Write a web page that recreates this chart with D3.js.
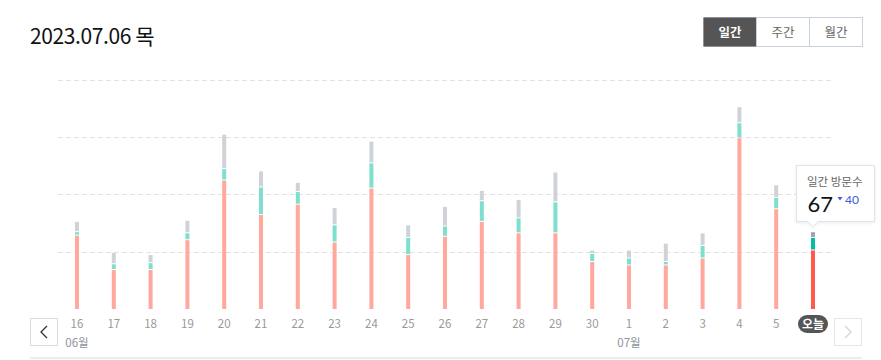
<!DOCTYPE html>
<html>
<head>
<meta charset="utf-8">
<script src="https://cdn.jsdelivr.net/npm/d3@7"></script>
<style>
  html, body { margin: 0; padding: 0; background: #fff; }
  svg { display: block; font-family: "Noto Sans CJK KR", "Noto Sans", sans-serif; }
</style>
</head>
<body>
<svg id="chart" width="881" height="360"></svg>
<script>
const days = ["16","17","18","19","20","21","22","23","24","25","26","27","28","29","30","1","2","3","4","5","오늘"];
const monthLabels = [{ index: 0, label: "06월" }, { index: 15, label: "07월" }];
const pinkVals = [64,34,34,60,112,82,91,58,105,47,63,76,66,66,41,38,38,44,149,87,51];
const tealVals = [3,5,6,6,10,24,11,15,22,15,9,18,13,27,7,6,3,11,13,10,11];
const greyVals = [9,10,7,11,30,14,8,15,19,11,17,9,16,26,3,7,16,11,14,11,5];
const gridTicks = [50, 100, 150, 200];
const periodButtons = ["일간", "주간", "월간"];
const titleText = "2023.07.06 목";
const tooltipLabel = "일간 방문수";
const tooltipValue = 67;
const tooltipDiff = 40;

const svg = d3.select("#chart");
const defs = svg.append("defs");
const filt = defs.append("filter").attr("id", "shadow").attr("x", "-20%").attr("y", "-20%").attr("width", "140%").attr("height", "150%");
filt.append("feDropShadow").attr("dx", 0).attr("dy", 1).attr("stdDeviation", 1.5).attr("flood-color", "#000").attr("flood-opacity", 0.08);

const x = d3.scalePoint().domain(d3.range(days.length)).range([77, 813]);
const y = d3.scaleLinear().domain([0, 200]).range([309, 79.7]);

// Title
svg.append("text").attr("x", 30).attr("y", 43.5).attr("font-size", 21).attr("letter-spacing", -0.4).attr("fill", "#111").text(titleText);

// Period buttons
const bw = 53, bx0 = 703.5, by0 = 17.5, bh = 29;
const bg = svg.append("g");
bg.append("rect").attr("x", bx0).attr("y", by0).attr("width", bw * 3).attr("height", bh).attr("fill", "#fff").attr("stroke", "#c9d0dd");
periodButtons.forEach((b, i) => {
  if (i > 0) {
    bg.append("line").attr("x1", bx0 + i * bw).attr("x2", bx0 + i * bw).attr("y1", by0).attr("y2", by0 + bh).attr("stroke", "#c9d0dd");
  } else {
    bg.append("rect").attr("x", bx0).attr("y", by0).attr("width", bw).attr("height", bh).attr("fill", "#555555");
  }
  bg.append("text").attr("x", bx0 + i * bw + bw / 2).attr("y", by0 + bh / 2 + 4.5).attr("text-anchor", "middle")
    .attr("font-size", 12.5).attr("font-weight", i === 0 ? "bold" : "normal")
    .attr("fill", i === 0 ? "#fff" : "#666").text(b);
});

// Gridlines
svg.append("g").selectAll("line").data(gridTicks).join("line")
  .attr("x1", 58).attr("x2", 832)
  .attr("y1", d => Math.round(y(d)) + 0.5).attr("y2", d => Math.round(y(d)) + 0.5)
  .attr("stroke", "#e3e3e3").attr("stroke-dasharray", "5,3");

// Bars
const barW = 4;
const barsG = svg.append("g");
days.forEach((d, i) => {
  const today = i === days.length - 1;
  const cols = today ? ["#ff5a4b", "#00bfa5", "#9ea4ad"] : ["#ffa89e", "#7edfd0", "#cfd3d7"];
  const vals = [pinkVals[i], tealVals[i], greyVals[i]];
  let base = 0;
  vals.forEach((v, k) => {
    const y0 = y(base), y1 = y(base + v);
    const gap = k === 0 ? 0 : 1;
    barsG.append("rect")
      .attr("x", x(i) - barW / 2).attr("width", barW)
      .attr("y", y1).attr("height", Math.max(0, y0 - y1 - gap))
      .attr("fill", cols[k]);
    base += v;
  });
});

// X labels
const lab = svg.append("g");
days.forEach((d, i) => {
  if (i === days.length - 1) {
    lab.append("rect").attr("x", x(i) - 15).attr("y", 315).attr("width", 30).attr("height", 18).attr("rx", 9).attr("fill", "#555");
    lab.append("text").attr("x", x(i)).attr("y", 328.5).attr("text-anchor", "middle").attr("font-size", 12).attr("font-weight", "bold").attr("fill", "#fff").text(d);
  } else {
    lab.append("text").attr("x", x(i)).attr("y", 328.3).attr("text-anchor", "middle").attr("font-size", 11.5).attr("fill", "#999").text(d);
  }
});
monthLabels.forEach(m => {
  lab.append("text").attr("x", x(m.index)).attr("y", 346.5).attr("text-anchor", "middle").attr("font-size", 11.5).attr("fill", "#8e93a0").text(m.label);
});

// Nav buttons
svg.append("rect").attr("x", 30.5).attr("y", 318.5).attr("width", 27).attr("height", 27).attr("fill", "#fff").attr("stroke", "#dcdde4");
svg.append("path").attr("d", "M47,326 L41,332 L47,338").attr("fill", "none").attr("stroke", "#333").attr("stroke-width", 1.3);
svg.append("rect").attr("x", 834.5).attr("y", 318.5).attr("width", 27).attr("height", 27).attr("fill", "#fff").attr("stroke", "#e6e7ec");
svg.append("path").attr("d", "M845,326 L851,332 L845,338").attr("fill", "none").attr("stroke", "#d4d4d8").attr("stroke-width", 1.3);

// Bottom line
svg.append("line").attr("x1", 30).attr("x2", 862).attr("y1", 358).attr("y2", 358).attr("stroke", "#e6e6e6").attr("stroke-width", 1.5);

// Tooltip
const tx = x(days.length - 1);
const tt = svg.append("g");
tt.append("path")
  .attr("d", `M796.5,165.5 H874.5 V221.5 H${tx + 5} L${tx},226.5 L${tx - 5},221.5 H796.5 Z`)
  .attr("fill", "#fff").attr("stroke", "#dfe3eb").attr("filter", "url(#shadow)");
tt.append("text").attr("x", 807).attr("y", 186).attr("font-size", 11.5).attr("fill", "#666").text(tooltipLabel);
tt.append("text").attr("x", 807.5).attr("y", 211.8).attr("font-size", 22).attr("font-family", "Lato, 'Noto Sans', sans-serif").attr("fill", "#111").text(tooltipValue);
tt.append("path").attr("d", "M837.5,197 L842.5,197 L840,200.5 Z").attr("fill", "#3b5bd9");
tt.append("text").attr("x", 845).attr("y", 204.3).attr("font-size", 12).attr("font-family", "Lato, 'Noto Sans', sans-serif").attr("fill", "#3b5bd9").text(tooltipDiff);
</script>
</body>
</html>
